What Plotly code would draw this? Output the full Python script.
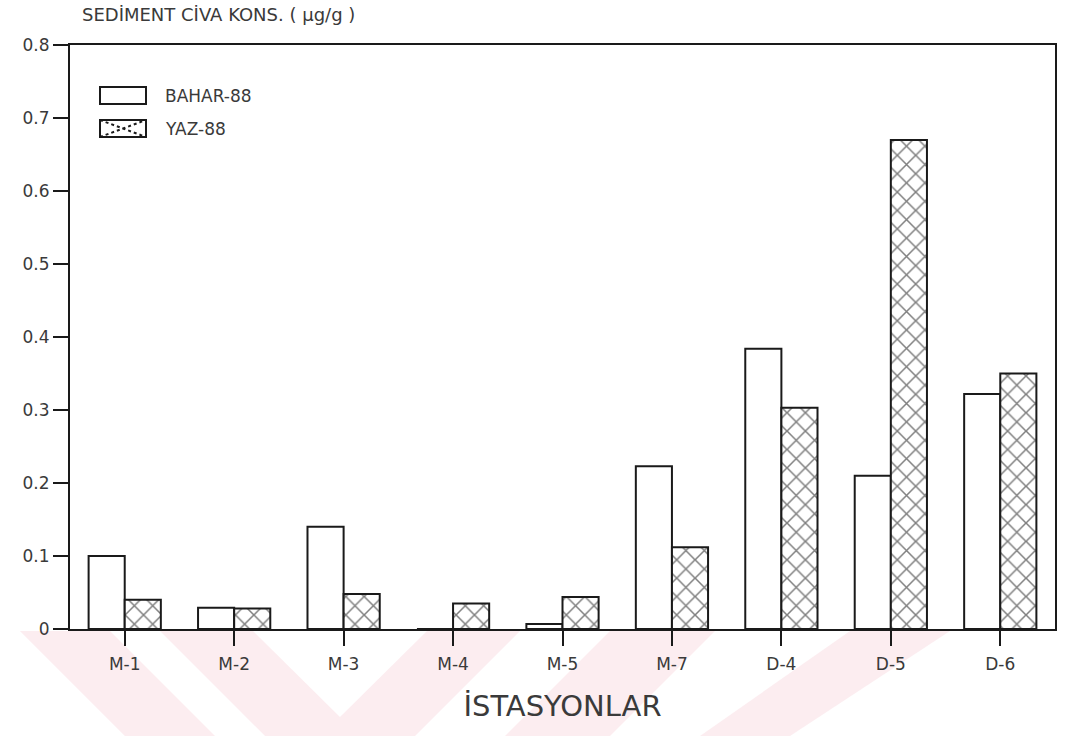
import plotly.graph_objects as go

# Sediment mercury concentration by station, two sampling seasons
stations = ["M-1", "M-2", "M-3", "M-4", "M-5", "M-7", "D-4", "D-5", "D-6"]
bahar_88 = [0.100, 0.029, 0.140, 0.0, 0.007, 0.223, 0.384, 0.210, 0.322]
yaz_88 = [0.040, 0.028, 0.048, 0.035, 0.044, 0.112, 0.303, 0.670, 0.350]
series_names = ["BAHAR-88", "YAZ-88"]

W, H = 1073, 736
M_L, M_R, M_T, M_B = 70, 18, 45, 107
PW, PH = W - M_L - M_R, H - M_T - M_B

ink = "#1a1a1a"
text_col = "#3a3a3a"
font_family = "DejaVu Sans, Liberation Sans, sans-serif"


def px_x(px):
    """Pixel column -> paper x."""
    return (px - M_L) / PW


def px_y(py):
    """Pixel row -> paper y."""
    return (H - M_B - py) / PH


fig = go.Figure()
fig.add_trace(go.Bar(
    x=stations, y=bahar_88, name=series_names[0],
    marker=dict(color="white", line=dict(color=ink, width=2)),
))
fig.add_trace(go.Bar(
    x=stations, y=yaz_88, name=series_names[1],
    marker=dict(color="white", line=dict(color=ink, width=2),
                pattern=dict(shape="x", fgcolor="#000000", bgcolor="white",
                             size=13, solidity=0.22)),
))

shapes = []

# faint pink watermark bands below the axis
pink = "rgba(250,222,228,0.55)"
bands = [
    [(20, 631), (110, 631), (215, 736), (125, 736)],
    [(160, 631), (253, 631), (340, 717), (427, 631), (520, 631), (415, 736), (265, 736)],
    [(610, 631), (715, 631), (610, 736), (505, 736)],
    [(850, 631), (950, 631), (790, 736), (700, 736)],
]
for poly in bands:
    path = "M " + " L ".join(f"{px_x(x):.4f},{px_y(y):.4f}" for x, y in poly) + " Z"
    shapes.append(dict(type="path", path=path, xref="paper", yref="paper",
                       fillcolor=pink, line=dict(width=0), layer="below"))

# legend swatches
sw_x0, sw_x1 = 100, 146
sw_rows = [(87, 104), (120, 137)]
for i, (y0, y1) in enumerate(sw_rows):
    shapes.append(dict(type="rect", xref="paper", yref="paper",
                       x0=px_x(sw_x0), x1=px_x(sw_x1), y0=px_y(y1), y1=px_y(y0),
                       line=dict(color=ink, width=2), fillcolor="white"))
    if i == 1:
        for (xa, ya, xb, yb) in [(sw_x0, y0, sw_x1, y1), (sw_x0, y1, sw_x1, y0)]:
            shapes.append(dict(type="line", xref="paper", yref="paper",
                               x0=px_x(xa), y0=px_y(ya), x1=px_x(xb), y1=px_y(yb),
                               line=dict(color=ink, width=2, dash="dot")))

annotations = [
    dict(text="SEDİMENT CİVA KONS. ( µg/g )", xref="paper", yref="paper",
         x=px_x(80), y=px_y(15), xanchor="left", yanchor="middle",
         showarrow=False, font=dict(size=18, color=text_col)),
]
for name, (y0, y1) in zip(series_names, sw_rows):
    annotations.append(dict(text=name, xref="paper", yref="paper",
                            x=px_x(163), y=px_y((y0 + y1) / 2),
                            xanchor="left", yanchor="middle", showarrow=False,
                            font=dict(size=17, color=text_col)))

fig.update_layout(
    width=W, height=H,
    margin=dict(l=M_L, r=M_R, t=M_T, b=M_B),
    paper_bgcolor="white", plot_bgcolor="rgba(0,0,0,0)",
    barmode="group", bargap=0.34, bargroupgap=0.0,
    font=dict(family=font_family, color=text_col, size=16),
    showlegend=False,
    shapes=shapes,
    annotations=annotations,
)

fig.update_xaxes(
    showline=True, linecolor=ink, linewidth=2, mirror=True,
    ticks="outside", ticklen=15, tickcolor=ink, tickwidth=2,
    ticklabelstandoff=4,
    tickfont=dict(size=17, color=text_col),
    title=dict(text="İSTASYONLAR", font=dict(size=29, color=text_col), standoff=22),
    showgrid=False,
)
fig.update_yaxes(
    range=[0, 0.8], dtick=0.1,
    showline=True, linecolor=ink, linewidth=2, mirror=True,
    ticks="outside", ticklen=15, tickcolor=ink, tickwidth=2,
    tickfont=dict(size=17, color=text_col),
    showgrid=False, zeroline=False,
)

fig.write_html("out.html")
